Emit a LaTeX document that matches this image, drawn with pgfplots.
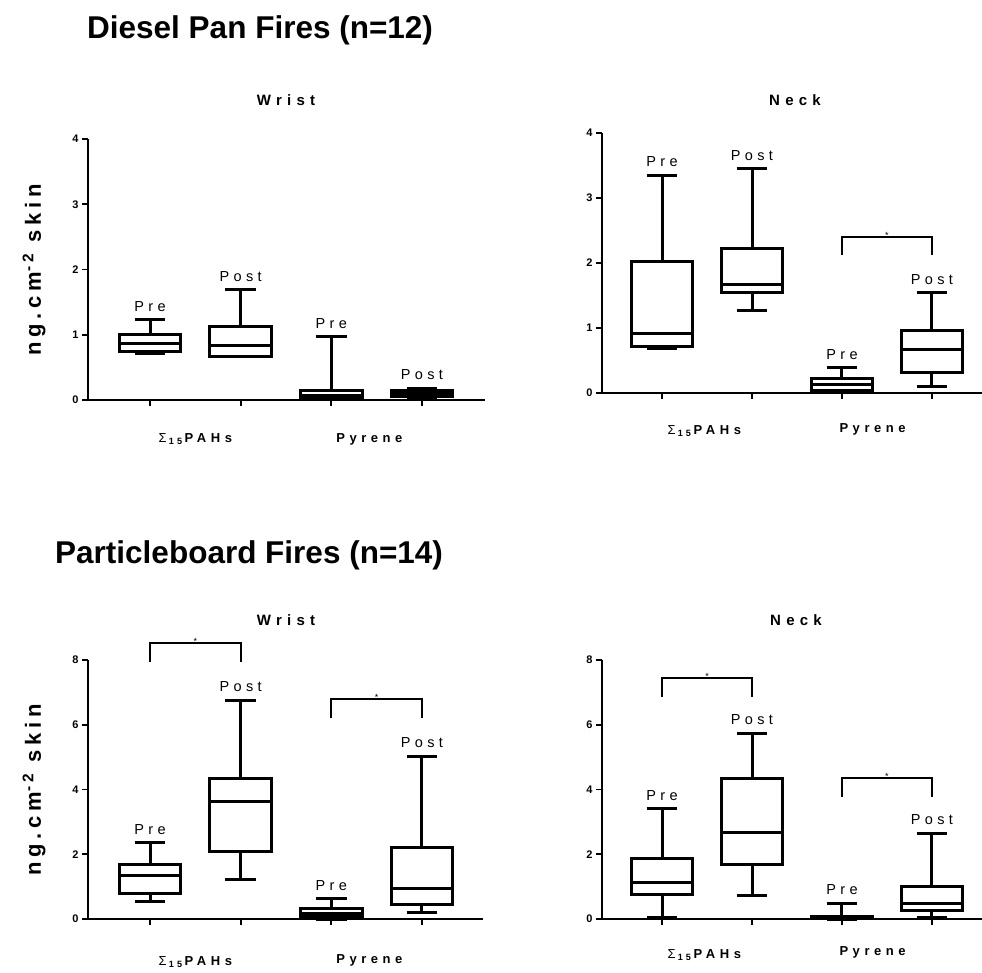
\documentclass[border=0pt]{standalone}
\usepackage{pgfplots}
\pgfplotsset{compat=1.18}
\usepgfplotslibrary{statistics}
\usepackage{fontspec}
\setmainfont{Liberation Sans}
\newfontfamily\spc[LetterSpace=30]{Liberation Sans}
\newfontfamily\spcb[LetterSpace=35]{Liberation Sans}
\newfontfamily\spcy[LetterSpace=22]{Liberation Sans}

\pgfplotsset{
  panel/.style={scale only axis, clip=false,
    axis x line=bottom, axis y line=left,
    axis line style={-, line width=2pt},
    tick style={black, line width=1.8pt},
    tick align=outside, major tick length=6pt,
    xtick={1,2,3,4}, xticklabels={},
    ymin=0,
    yticklabel style={font=\fontsize{11}{11}\selectfont\bfseries},
    /pgf/number format/assume math mode=true,
  },
  bx/.style={draw=black, line width=3pt, solid, mark=none},
}
\tikzset{
  pp/.style={anchor=base, yshift=8.5pt, inner sep=0pt, font=\spc\fontsize{14.5}{14.5}\selectfont},
  cat/.style={inner sep=0pt, font=\spcb\fontsize{13}{13}\selectfont\bfseries},
}
\newcommand{\bp}[6]{\addplot[bx, boxplot prepared={draw direction=y, draw position=#1, lower whisker=#2, lower quartile=#3, median=#4, upper quartile=#5, upper whisker=#6, box extend=0.68, whisker extend=0.34}] coordinates {};}
\newcommand{\pl}[3]{\node[pp] at (axis cs:#1,#2) {#3};}
\newcommand{\br}[5]{\draw[line width=2pt] (axis cs:#1,#3) |- (axis cs:#2,#4) -- (axis cs:#2,#3);
  \node[font=\fontsize{9}{9}\selectfont, inner sep=0.5pt, yshift=1.5pt] at (axis cs:#5,#4) {*};}

\begin{document}
\begin{tikzpicture}
\useasboundingbox (0,0) rectangle (982pt,972pt);

% titles
\node[anchor=base west, inner sep=0pt, font=\fontsize{31.5}{36}\selectfont\bfseries] at (87pt,933pt) {Diesel Pan Fires (n=12)};
\node[anchor=base west, inner sep=0pt, font=\fontsize{31.5}{36}\selectfont\bfseries] at (55pt,408pt) {Particleboard Fires (n=14)};
\node[font=\spcb\fontsize{15}{15}\selectfont\bfseries] at (286pt,872pt) {Wrist};
\node[font=\spcb\fontsize{15}{15}\selectfont\bfseries] at (795pt,872pt) {Neck};
\node[font=\spcb\fontsize{15}{15}\selectfont\bfseries] at (286pt,352pt) {Wrist};
\node[font=\spcb\fontsize{15}{15}\selectfont\bfseries] at (796pt,352pt) {Neck};
\node[rotate=90, font=\spcy\fontsize{22}{22}\selectfont\bfseries] at (34pt,702pt) {ng.cm\textsuperscript{-2} skin};
\node[rotate=90, font=\spcy\fontsize{22}{22}\selectfont\bfseries] at (34pt,182pt) {ng.cm\textsuperscript{-2} skin};

% top-left
\begin{axis}[panel, at={(88pt,572pt)}, anchor=south west, width=397pt, height=261pt,
  xmin=0.316, xmax=4.695, ymax=4, ytick={0,1,2,3,4}]
\bp{1}{0.71}{0.75}{0.87}{1.00}{1.23}
\bp{2}{0.66}{0.67}{0.84}{1.12}{1.69}
\bp{3}{0.00}{0.02}{0.07}{0.14}{0.97}
\bp{4}{0.03}{0.06}{0.10}{0.15}{0.18}
\pl{1}{1.23}{Pre}
\pl{2}{1.69}{Post}
\pl{3}{0.97}{Pre}
\pl{4}{0.18}{Post}
\node[cat] at (axis cs:1.5,0) [yshift=-39pt] {{\mdseries Σ}\,\textsubscript{15}\,PAHs};
\node[cat] at (axis cs:3.42,0) [yshift=-39pt] {Pyrene};
\end{axis}

% top-right
\begin{axis}[panel, at={(602pt,579pt)}, anchor=south west, width=380pt, height=260pt,
  xmin=0.333, xmax=4.556, ymax=4, ytick={0,1,2,3,4}]
\bp{1}{0.69}{0.71}{0.92}{2.02}{3.35}
\bp{2}{1.27}{1.54}{1.67}{2.23}{3.45}
\bp{3}{0.00}{0.04}{0.13}{0.22}{0.39}
\bp{4}{0.10}{0.31}{0.67}{0.96}{1.54}
\pl{1}{3.35}{Pre}
\pl{2}{3.45}{Post}
\pl{3}{0.39}{Pre}
\pl{4}{1.54}{Post}
\br{3}{4}{2.12}{2.40}{3.5}
\node[cat] at (axis cs:1.47,0) [yshift=-38pt] {{\mdseries Σ}\,\textsubscript{15}\,PAHs};
\node[cat] at (axis cs:3.34,0) [yshift=-36pt] {Pyrene};
\end{axis}

% bottom-left
\begin{axis}[panel, at={(88pt,53pt)}, anchor=south west, width=395pt, height=259pt,
  xmin=0.316, xmax=4.673, ymax=8, ytick={0,2,4,6,8}]
\bp{1}{0.53}{0.80}{1.33}{1.67}{2.35}
\bp{2}{1.21}{2.07}{3.64}{4.35}{6.76}
\bp{3}{0.00}{0.07}{0.18}{0.31}{0.62}
\bp{4}{0.19}{0.46}{0.93}{2.22}{5.03}
\pl{1}{2.35}{Pre}
\pl{2}{6.76}{Post}
\pl{3}{0.62}{Pre}
\pl{4}{5.03}{Post}
\br{1}{2}{7.94}{8.52}{1.5}
\br{3}{4}{6.20}{6.79}{3.5}
\node[cat] at (axis cs:1.5,0) [yshift=-43pt] {{\mdseries Σ}\,\textsubscript{15}\,PAHs};
\node[cat] at (axis cs:3.42,0) [yshift=-41pt] {Pyrene};
\end{axis}

% bottom-right
\begin{axis}[panel, at={(602pt,53pt)}, anchor=south west, width=380pt, height=259pt,
  xmin=0.333, xmax=4.556, ymax=8, ytick={0,2,4,6,8}]
\bp{1}{0.06}{0.77}{1.14}{1.88}{3.40}
\bp{2}{0.74}{1.67}{2.66}{4.35}{5.74}
\bp{3}{0.00}{0.02}{0.05}{0.08}{0.49}
\bp{4}{0.06}{0.25}{0.49}{1.00}{2.65}
\pl{1}{3.40}{Pre}
\pl{2}{5.74}{Post}
\pl{3}{0.49}{Pre}
\pl{4}{2.65}{Post}
\br{1}{2}{6.86}{7.44}{1.5}
\br{3}{4}{3.77}{4.35}{3.5}
\node[cat] at (axis cs:1.47,0) [yshift=-36pt] {{\mdseries Σ}\,\textsubscript{15}\,PAHs};
\node[cat] at (axis cs:3.34,0) [yshift=-33pt] {Pyrene};
\end{axis}
\end{tikzpicture}
\end{document}
